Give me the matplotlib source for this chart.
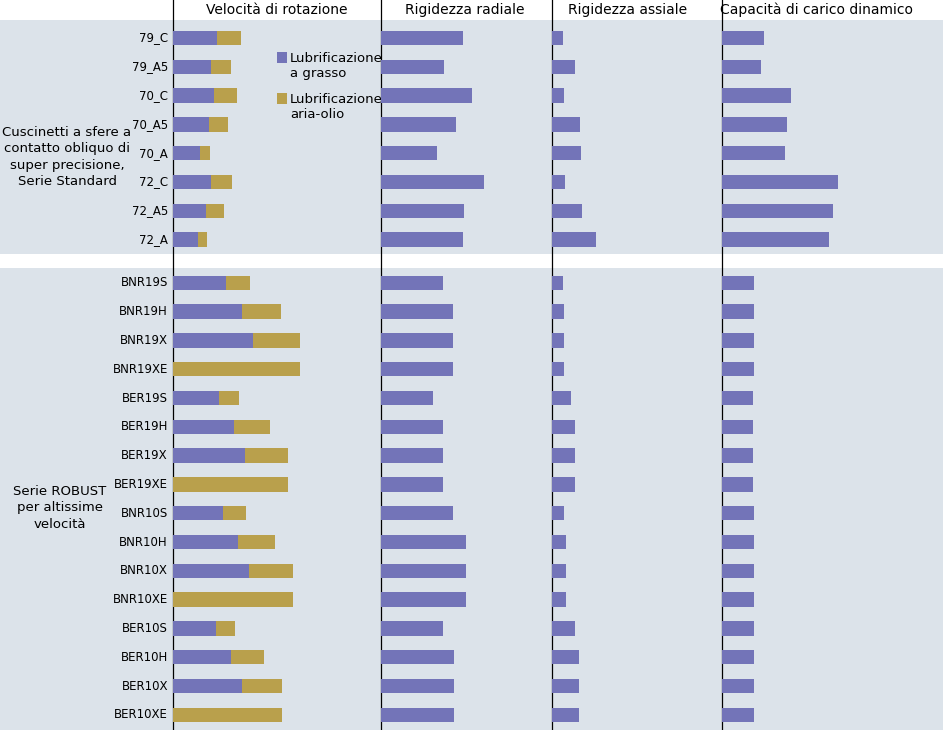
import numpy as np
import matplotlib.pyplot as plt
from matplotlib.patches import Rectangle

# ----------------------------------------------------------------------
# --- data (bar lengths in pixels)

labels = ['79_C', '79_A5', '70_C', '70_A5', '70_A', '72_C', '72_A5', '72_A',
          'BNR19S', 'BNR19H', 'BNR19X', 'BNR19XE', 'BER19S', 'BER19H', 'BER19X', 'BER19XE',
          'BNR10S', 'BNR10H', 'BNR10X', 'BNR10XE', 'BER10S', 'BER10H', 'BER10X', 'BER10XE']

vel_grease = [44, 38, 41, 36, 27, 38, 33, 25,
              53, 69, 80, 0, 46, 61, 72, 0, 50, 65, 76, 0, 43, 58, 69, 0]
vel_total = [68, 58, 64, 55, 37, 59, 51, 34,
             77, 108, 127, 127, 66, 97, 115, 115, 73, 102, 120, 120, 62, 91, 109, 109]
radial = [82, 63, 91, 75, 56, 103, 83, 82,
          62, 72, 72, 72, 52, 62, 62, 62, 72, 85, 85, 85, 62, 73, 73, 73]
axial = [11, 23, 12, 28, 29, 13, 30, 44,
         11, 12, 12, 12, 19, 23, 23, 23, 12, 14, 14, 14, 23, 27, 27, 27]
capacity = [42, 39, 69, 65, 63, 116, 111, 107,
            32, 32, 32, 32, 31, 31, 31, 31, 32, 32, 32, 32, 32, 32, 32, 32]

pos = np.array([i if i < 8 else i + 0.5 for i in range(len(labels))])

blue = '#7374b8'
gold = '#b9a04c'
bg = '#dce3ea'

W, H = 943, 730
fig = plt.figure(figsize=(W/100, H/100), dpi=100)

# background
bax = fig.add_axes([0, 0, 1, 1])
bax.set_xlim(0, W)
bax.set_ylim(H, 0)
bax.axis('off')
bax.add_patch(Rectangle((0, 20), W, 234, color=bg, lw=0))
bax.add_patch(Rectangle((0, 268), W, H - 268, color=bg, lw=0))
for xe in [173, 381, 552, 722]:
    bax.axvline(xe, color='black', lw=0.9)

bax.text(67, 157, 'Cuscinetti a sfere a\ncontatto obliquo di\nsuper precisione,\nSerie Standard',
         ha='center', va='center', fontsize=9.5, linespacing=1.35)
bax.text(60, 508, 'Serie ROBUST\nper altissime\nvelocità', ha='center', va='center',
         fontsize=9.5, linespacing=1.35)

edges = [(173, 381, 'Velocità di rotazione'), (381, 552, 'Rigidezza radiale'),
         (552, 722, 'Rigidezza assiale'), (722, 943, 'Capacità di carico dinamico')]
titles_x = [277, 465, 628, 817]

step = 28.8
y0 = 38
ylo = (20 - y0) / step
yhi = (H - y0) / step

axes = []
for (xa, xb, title), tx in zip(edges, titles_x):
    ax = fig.add_axes([xa / W, 0, (xb - xa) / W, (H - 20) / H])
    ax.set_xlim(0, xb - xa)
    ax.set_ylim(yhi, ylo)
    ax.axis('off')
    bax.text(tx, 10, title, ha='center', va='center', fontsize=10)
    axes.append(ax)

axes[0].barh(pos, vel_total, height=0.5, color=gold)
axes[0].barh(pos, vel_grease, height=0.5, color=blue)
axes[1].barh(pos, radial, height=0.5, color=blue)
axes[2].barh(pos, axial, height=0.5, color=blue)
axes[3].barh(pos, capacity, height=0.5, color=blue)

for p, lab in zip(pos, labels):
    axes[0].text(-5, p, lab, ha='right', va='center', fontsize=8.5)

# legend
bax.add_patch(Rectangle((277, 52), 10, 11, color=blue, lw=0))
bax.text(290, 66, 'Lubrificazione\na grasso', ha='left', va='center', fontsize=9.5, linespacing=1.2)
bax.add_patch(Rectangle((277, 93), 10, 11, color=gold, lw=0))
bax.text(290, 107, 'Lubrificazione\naria-olio', ha='left', va='center', fontsize=9.5, linespacing=1.2)

fig.savefig('out.png')
